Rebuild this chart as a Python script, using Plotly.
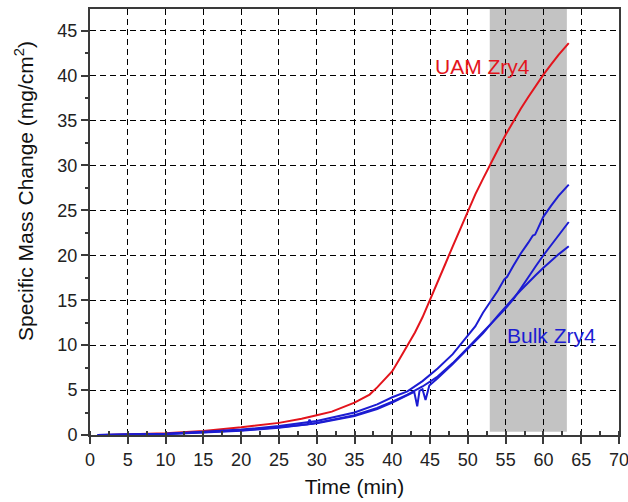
import plotly.graph_objects as go

# ---- data ----
uam_t = [2, 5, 10, 15, 20, 25, 28, 30, 32, 35, 37, 38, 40, 41, 42, 43, 44, 45, 46, 47, 48, 49, 50,
         51, 52, 53, 54, 55, 56, 57, 58, 59, 60, 61, 62, 63.35]
uam_y = [0.0, 0.05, 0.2, 0.45, 0.85, 1.35, 1.8, 2.2, 2.6, 3.6, 4.5, 5.3, 7.1, 8.5, 9.9, 11.4, 13.1,
         15.0, 17.0, 19.0, 21.0, 23.0, 25.0, 26.8, 28.5, 30.2, 31.8, 33.4, 34.9, 36.3, 37.6, 38.9,
         40.1, 41.2, 42.3, 43.6]

bulk1_t = [1, 5, 10, 15, 20, 25, 30, 35, 38, 40, 42, 44, 45, 46, 48, 50, 51, 52, 53, 54, 54.8,
           55.2, 56, 57, 58, 58.6, 58.9, 60, 61, 62, 63.35]
bulk1_y = [0.0, 0.05, 0.15, 0.35, 0.6, 1.0, 1.55, 2.5, 3.4, 4.2, 4.85, 6.0, 6.7, 7.4, 9.0, 11.0,
           12.1, 13.6, 14.9, 16.1, 17.3, 17.6, 18.8, 20.2, 21.4, 22.2, 22.3, 24.3, 25.5, 26.6, 27.85]

bulk2_t = [1, 5, 10, 15, 20, 25, 28.8, 29.05, 29.3, 30, 35, 38, 40, 42, 44, 46, 48, 50, 52, 54,
           55, 56, 57, 58, 59, 60, 61, 62, 63.35]
bulk2_y = [0.0, 0.04, 0.12, 0.3, 0.52, 0.85, 1.2, 1.7, 1.25, 1.35, 2.2, 3.0, 3.7, 4.5, 5.4, 6.5,
           8.0, 9.7, 11.4, 13.2, 14.1, 15.1, 16.3, 17.6, 18.8, 20.0, 21.1, 22.2, 23.7]

bulk3_t = [1, 5, 10, 15, 20, 25, 30, 35, 38, 40, 42, 42.9, 43.3, 43.6, 44.0, 44.4, 44.9, 46, 48,
           50, 52, 54, 55, 56, 57, 58, 59, 60, 61, 62, 63.35]
bulk3_y = [0.0, 0.03, 0.1, 0.28, 0.48, 0.8, 1.3, 2.1, 2.9, 3.6, 4.4, 4.8, 3.2, 4.9, 5.1, 3.9, 5.5,
           6.3, 7.9, 9.6, 11.3, 13.3, 14.3, 15.2, 16.1, 17.0, 17.8, 18.6, 19.4, 20.1, 21.0]

shade_x = [52.9, 63.1]
shade_y0 = 0.35

x_ticks = list(range(0, 75, 5))
y_ticks = list(range(0, 50, 5))

RED = "#e3141c"
BLUE = "#1c1cd2"
FONT = "Liberation Sans, Arial, sans-serif"

fig = go.Figure()
for t, y, c in [(uam_t, uam_y, RED), (bulk1_t, bulk1_y, BLUE),
                (bulk2_t, bulk2_y, BLUE), (bulk3_t, bulk3_y, BLUE)]:
    fig.add_trace(go.Scatter(x=t, y=y, mode="lines", line=dict(color=c, width=2),
                             showlegend=False, hoverinfo="skip"))

fig.add_shape(type="rect", xref="x", yref="y", x0=shade_x[0], x1=shade_x[1],
              y0=shade_y0, y1=47.4, fillcolor="#c3c3c3", line=dict(width=0), layer="below")

fig.add_annotation(x=52.0, y=41.0, text="UAM Zry4", showarrow=False,
                   font=dict(family=FONT, size=21, color=RED))
fig.add_annotation(x=61.1, y=11.1, text="Bulk Zry4", showarrow=False,
                   font=dict(family=FONT, size=21, color=BLUE))

# y-axis title as a rotated annotation (positioned like the reference)
fig.add_annotation(xref="paper", yref="paper", x=0, xshift=-66, y=0.573,
                   text="Specific Mass Change (mg/cm<sup>2</sup>)", textangle=-90,
                   showarrow=False, xanchor="center", yanchor="middle",
                   font=dict(family=FONT, size=21, color="#111"))

axis_common = dict(
    showline=True, linecolor="#3a3a3a", linewidth=2, mirror=True, automargin=False,
    showgrid=True, gridcolor="black", gridwidth=1, griddash="6px,4px",
    zeroline=False, ticks="outside", tickcolor="#3a3a3a", tickwidth=1.5,
    ticklabeloverflow="allow",
    tickfont=dict(family=FONT, size=18, color="#222"),
)

fig.update_xaxes(**axis_common, range=[0, 70], tickvals=x_ticks, ticklen=7,
                 minor=dict(dtick=2.5, tick0=0, ticks="inside", ticklen=4, tickcolor="#3a3a3a",
                            showgrid=False),
                 title=dict(text="Time (min)", font=dict(family=FONT, size=21, color="#111"),
                            standoff=11))
fig.update_yaxes(**axis_common, range=[0, 47.4], tickvals=y_ticks, ticklen=7,
                 minor=dict(dtick=2.5, tick0=0, ticks="outside", ticklen=3, tickcolor="#3a3a3a",
                            showgrid=False))

fig.update_layout(width=628, height=502, margin=dict(l=90, r=9, t=9, b=67),
                  plot_bgcolor="white", paper_bgcolor="white")

fig.write_html("out.html", config={"displayModeBar": False},
               post_script="document.body.style.margin='0px';")
